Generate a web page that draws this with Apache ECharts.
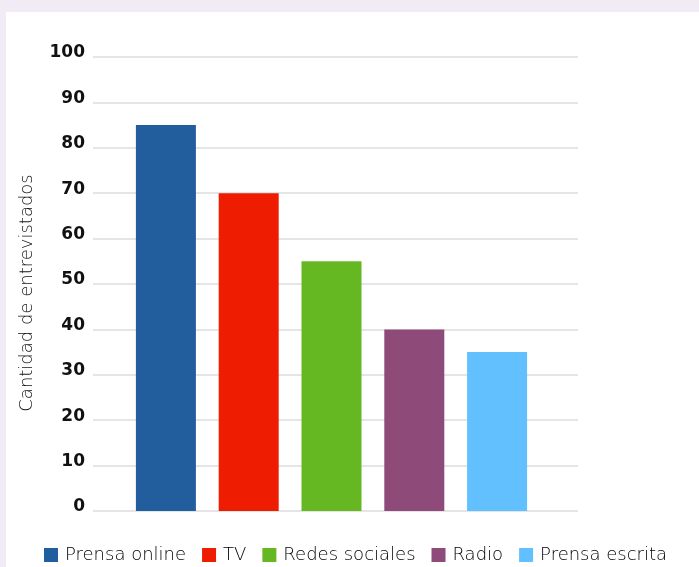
<!DOCTYPE html>
<html><head><meta charset="utf-8">
<script src="https://cdn.jsdelivr.net/npm/echarts@6/dist/echarts.min.js"></script>
<style>
html,body{margin:0;padding:0;background:#f1ebf6;width:699px;height:567px;overflow:hidden}
#c{position:absolute;left:6px;top:12px;width:693px;height:555px;background:#fff}
</style></head><body>
<div id="c"></div>
<script>
const seriesNames = ['Prensa online','TV','Redes sociales','Radio','Prensa escrita'];
const values = [85, 70, 55, 40, 35];
const colors = ['#225e9e','#ee1c00','#66b822','#8e4a78','#63c0ff'];
const yTicks = {min:0, max:100, interval:10};
const chart = echarts.init(document.getElementById('c'));
chart.setOption({
  animation:false,
  grid:[
    {left:87, right:121, top:45, bottom:56},
    {left:83, right:125, top:45, bottom:56}
  ],
  legend:{
    data:seriesNames, top:529, left:33, itemWidth:14, itemHeight:14, itemGap:16,
    icon:'rect', textStyle:{fontSize:18, color:'#000', fontFamily:'DejaVu Sans', fontWeight:200, padding:[0,0,0,2]}
  },
  xAxis:[
    {gridIndex:0, type:'category', data:[''], axisLine:{show:false}, axisTick:{show:false}, axisLabel:{show:false}},
    {gridIndex:1, type:'category', data:[''], axisLine:{show:false}, axisTick:{show:false}, axisLabel:{show:false}}
  ],
  yAxis:[{
    gridIndex:0, type:'value', min:yTicks.min, max:yTicks.max, interval:yTicks.interval,
    name:'Cantidad de entrevistados', nameLocation:'middle', nameGap:57,
    nameTextStyle:{fontSize:18, color:'#111', fontFamily:'DejaVu Sans', fontWeight:200, padding:[0,18,0,0]},
    axisLabel:{fontSize:17, fontWeight:'bold', color:'#111', margin:8, fontFamily:'DejaVu Sans',
      verticalAlign:'bottom', lineHeight:8},
    splitLine:{lineStyle:{color:'#dcdcdc', width:1.5}},
    axisLine:{show:false}, axisTick:{show:false}
  },{
    gridIndex:1, type:'value', min:yTicks.min, max:yTicks.max, interval:yTicks.interval,
    show:false, splitLine:{show:false}
  }],
  series: seriesNames.map((n,i)=>({
    name:n, type:'bar', xAxisIndex:1, yAxisIndex:1, data:[values[i]], barWidth:60, barGap:'38%', barCategoryGap:'19%',
    itemStyle:{color:colors[i]}
  }))
});
</script></body></html>
